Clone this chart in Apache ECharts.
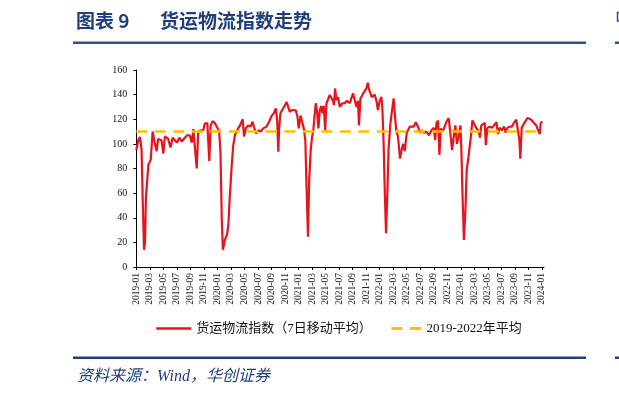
<!DOCTYPE html>
<html><head><meta charset="utf-8">
<script src="https://cdn.jsdelivr.net/npm/echarts@6/dist/echarts.min.js"></script>
<style>html,body{margin:0;padding:0;background:#fff}#c{width:619px;height:395px}</style>
</head><body><div id="c"></div>
<script>
const dates = [
'2019-01-01','2019-01-10','2019-01-17','2019-01-25','2019-01-31','2019-02-05','2019-02-09','2019-02-13','2019-02-23','2019-03-05',
'2019-03-14','2019-03-20','2019-04-01','2019-04-08','2019-04-16','2019-04-23','2019-05-01','2019-05-08','2019-05-16','2019-05-23',
'2019-06-03','2019-06-12','2019-06-22','2019-07-01','2019-07-12','2019-07-23','2019-08-07','2019-08-17','2019-08-29','2019-09-07',
'2019-09-14','2019-09-21','2019-09-29','2019-10-06','2019-10-17','2019-10-29','2019-11-05','2019-11-16','2019-11-25','2019-12-01',
'2019-12-10','2019-12-20','2020-01-01','2020-01-09','2020-01-15','2020-01-21','2020-01-26','2020-02-04','2020-02-14','2020-02-19',
'2020-02-25','2020-03-04','2020-03-11','2020-03-19','2020-03-27','2020-04-03','2020-04-11','2020-04-23','2020-04-29','2020-05-08',
'2020-05-18','2020-05-29','2020-06-07','2020-06-13','2020-06-22','2020-07-02','2020-07-13','2020-07-25','2020-08-09','2020-08-21',
'2020-09-01','2020-09-11','2020-09-20','2020-09-26','2020-10-01','2020-10-05','2020-10-11','2020-10-23','2020-11-01','2020-11-08',
'2020-11-15','2020-11-22','2020-12-01','2020-12-10','2020-12-19','2020-12-27','2021-01-02','2021-01-10','2021-01-17','2021-01-25',
'2021-02-01','2021-02-06','2021-02-12','2021-02-17','2021-02-23','2021-03-01','2021-03-06','2021-03-14','2021-03-18','2021-03-24',
'2021-03-30','2021-04-05','2021-04-11','2021-04-17','2021-04-23','2021-04-29','2021-05-05','2021-05-12','2021-05-20','2021-05-28',
'2021-06-04','2021-06-08','2021-06-13','2021-06-19','2021-06-26','2021-07-04','2021-07-16','2021-07-27','2021-08-06','2021-08-19',
'2021-08-26','2021-09-03','2021-09-10','2021-09-18','2021-09-25','2021-09-29','2021-10-06','2021-10-13','2021-10-18','2021-10-26',
'2021-11-02','2021-11-08','2021-11-14','2021-11-20','2021-11-26','2021-12-02','2021-12-09','2021-12-17','2021-12-24','2022-01-01',
'2022-01-09','2022-01-13','2022-01-19','2022-01-25','2022-01-30','2022-02-05','2022-02-10','2022-02-17','2022-02-24','2022-03-03',
'2022-03-09','2022-03-15','2022-03-23','2022-04-01','2022-04-07','2022-04-15','2022-04-22','2022-05-01','2022-05-07','2022-05-15',
'2022-05-22','2022-06-02','2022-06-11','2022-06-21','2022-06-29','2022-07-06','2022-07-17','2022-07-29','2022-08-10','2022-08-21',
'2022-09-01','2022-09-07','2022-09-13','2022-09-20','2022-09-26','2022-10-02','2022-10-08','2022-10-17','2022-10-28','2022-11-07',
'2022-11-15','2022-11-22','2022-12-01','2022-12-07','2022-12-14','2022-12-22','2022-12-30','2023-01-03','2023-01-09','2023-01-15',
'2023-01-22','2023-01-28','2023-02-05','2023-02-14','2023-02-21','2023-03-01','2023-03-06','2023-03-13','2023-03-21','2023-03-27',
'2023-04-02','2023-04-09','2023-04-17','2023-04-22','2023-04-29','2023-05-09','2023-05-20','2023-05-29','2023-06-09','2023-06-16',
'2023-06-23','2023-07-04','2023-07-13','2023-07-21','2023-07-28','2023-08-08','2023-08-18','2023-08-27','2023-09-07','2023-09-14',
'2023-09-21','2023-09-25','2023-10-01','2023-10-10','2023-10-17','2023-10-27','2023-11-02','2023-11-11','2023-11-21','2023-11-29',
'2023-12-06','2023-12-14','2023-12-22','2023-12-26','2024-01-03'
];
const freightIndex = [
95,103,105.6,96,50,14,20,57,83,87,
110,104,94,104,105,103,92,106,107,104,
97,105,103,101,105,102,105,107,107,101,
112,113,80,110,111,111,116.5,117,86,115,
118.5,117,113,110,93,38,14,22,27,35,
57,81,98,107,106,112.6,115,120,106,113,
115,114,118,114,108.5,111,110,112.6,114,118,
122.6,124.8,128.8,119,93.6,113,124.8,128.8,130,134,
130,126,127.5,126,127.3,122,112.6,123,122,112.6,
103,65,24.6,70.6,94,106,110,126,133,126,
112.6,127,130.7,124.8,131,111,133,133,139.7,140.5,
135,131.5,145,135.6,138,130,133,133,135,133,
137,141,140,130,135,115,137,139,141,141,
145,149.7,144,141,138,138,140,135,127.5,135,
138,130,100,57,27.4,62,97,116,127,137,
123,111,106,88,94,100,94,109,110,114,
113,114,117.6,114,109,111,109,110,107,111,
113,103,117,119,91,112.6,110,112.6,118,121,
108,95,108,115,100,106,115,98,57,22,
46,79,90,105,119,116,114,113,110,105,
115,115,117,99,113,114,113,113,117.6,108,
113,111,114,109,113,114,114,117,119.6,121,
103,88,113,116,117,121,122.6,120,118,117,
115,111,108,117,118
];
const avgPeriod = ['2019-01-01', '2024-01-08'];
const avg2019to2022 = 110;
const tickLabels = [
'2019-01','2019-03','2019-05','2019-07','2019-09','2019-11',
'2020-01','2020-03','2020-05','2020-07','2020-09','2020-11',
'2021-01','2021-03','2021-05','2021-07','2021-09','2021-11',
'2022-01','2022-03','2022-05','2022-07','2022-09','2022-11',
'2023-01','2023-03','2023-05','2023-07','2023-09','2023-11','2024-01'
];
const seriesNames = ['货运物流指数（7日移动平均）', '2019-2022年平均'];

function toM(s) {
  const p = s.split('-').map(Number);
  const dim = new Date(p[0], p[1], 0).getDate();
  return (p[0] - 2019) * 12 + (p[1] - 1) + (p[2] - 1) / dim;
}
function labelToM(l) {
  const p = l.split('-').map(Number);
  return (p[0] - 2019) * 12 + (p[1] - 1);
}
const tickValues = tickLabels.map(labelToM);
const lineData = dates.map((d, i) => [toM(d), freightIndex[i]]);
const avgData = avgPeriod.map(d => [toM(d), avg2019to2022]);

const NAVY = '#1F3F7A';
const LINE = '#2A5390';
const serif = '"Liberation Serif", "Noto Sans CJK SC", serif';
const chart = echarts.init(document.getElementById('c'), null, {renderer: 'canvas'});
chart.setOption({
  animation: false,
  backgroundColor: '#fff',
  grid: {left: 136.3, right: 75, top: 70, bottom: 128},
  xAxis: {
    type: 'value', min: 0, max: 60.3,
    axisLine: {show: true, lineStyle: {color: '#000', width: 1}},
    axisTick: {show: true, length: 3, lineStyle: {color: '#000'}, customValues: tickValues},
    axisLabel: {
      customValues: tickValues, rotate: 90, margin: 6,
      fontSize: 9.5, fontFamily: '"Liberation Serif", serif', color: '#222',
      formatter: v => tickLabels[tickValues.indexOf(v)] || ''
    },
    splitLine: {show: false}
  },
  yAxis: {
    type: 'value', min: 0, max: 160, interval: 20,
    axisLine: {show: true, lineStyle: {color: '#000', width: 1}},
    axisTick: {show: true, length: 3, lineStyle: {color: '#000'}},
    axisLabel: {fontSize: 10, fontFamily: '"Liberation Serif", serif', color: '#111', margin: 9},
    splitLine: {show: false}
  },
  legend: [
    {data: [seriesNames[0]], left: 150, top: 317, itemWidth: 35, itemHeight: 14, itemGap: 0,
     itemStyle: {opacity: 0}, lineStyle: {width: 2.6},
     textStyle: {fontSize: 13, fontFamily: serif, color: '#111'}},
    {data: [seriesNames[1]], left: 385, top: 317, itemWidth: 30, itemHeight: 14, itemGap: 0,
     itemStyle: {opacity: 0}, lineStyle: {width: 2.8},
     textStyle: {fontSize: 13, fontFamily: serif, color: '#111'}}
  ],
  series: [
    {name: seriesNames[0], type: 'line', data: lineData, symbol: 'none', showSymbol: false,
     lineStyle: {color: '#E8141C', width: 2.2}, itemStyle: {color: '#E8141C'}},
    {name: seriesNames[1], type: 'line', data: avgData, symbol: 'none', showSymbol: false,
     lineStyle: {color: '#FFC000', width: 2.6, type: [11, 7.5]}, itemStyle: {color: '#FFC000'}}
  ],
  graphic: [
    {type: 'text', style: {x: 76, y: 21, text: '图表 9', fill: NAVY, font: 'bold 19px "Noto Sans CJK SC"', verticalAlign: 'middle'}},
    {type: 'text', style: {x: 160, y: 21, text: '货运物流指数走势', fill: NAVY, font: 'bold 19px "Noto Sans CJK SC"', verticalAlign: 'middle'}},
    {type: 'rect', shape: {x: 73, y: 41.5, width: 513, height: 2.5}, style: {fill: LINE}},
    {type: 'rect', shape: {x: 615, y: 41.5, width: 6, height: 2.5}, style: {fill: LINE}},
    {type: 'rect', shape: {x: 617.5, y: 12.5, width: 6, height: 8.5}, style: {fill: 'none', stroke: LINE, lineWidth: 1.5}},
    {type: 'rect', shape: {x: 73, y: 356.5, width: 513, height: 2.5}, style: {fill: NAVY}},
    {type: 'rect', shape: {x: 615, y: 356.5, width: 6, height: 2.5}, style: {fill: NAVY}},
    {type: 'text', style: {x: 77, y: 377, text: '资料来源：Wind，华创证券', fill: NAVY, font: 'italic 16px "Liberation Serif", "Noto Sans CJK SC"', verticalAlign: 'middle'}}
  ]
});
</script></body></html>
